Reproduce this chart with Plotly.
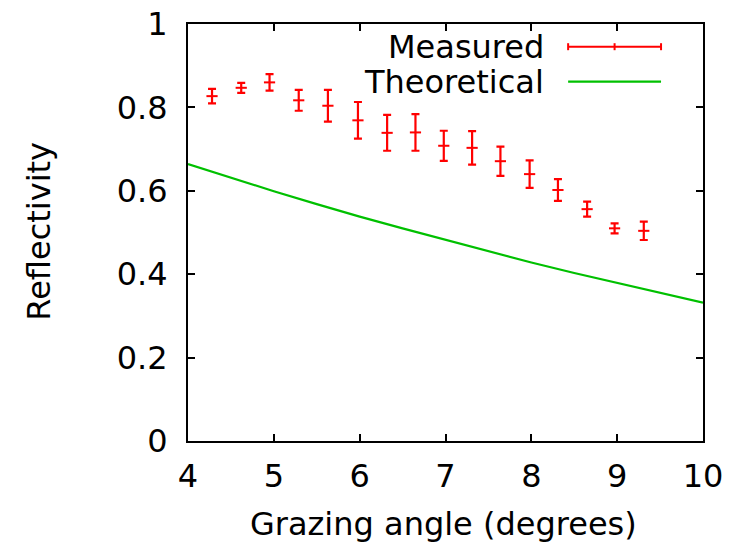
import plotly.graph_objects as go

# ---- data ----
measured_x = [4.28, 4.62, 4.95, 5.29, 5.63, 5.98, 6.32, 6.65, 6.98, 7.31, 7.64, 7.98, 8.31, 8.65, 8.97, 9.31]
measured_y = [0.827, 0.847, 0.860, 0.817, 0.804, 0.769, 0.739, 0.740, 0.708, 0.703, 0.671, 0.640, 0.602, 0.556, 0.510, 0.504]
measured_err = [0.0175, 0.012, 0.020, 0.025, 0.038, 0.044, 0.043, 0.044, 0.036, 0.040, 0.035, 0.033, 0.026, 0.018, 0.012, 0.022]

theory_x = [4.0, 4.5, 5.0, 5.5, 6.0, 6.5, 7.0, 7.5, 8.0, 8.5, 9.0, 9.5, 10.0]
theory_y = [0.664, 0.631, 0.599, 0.568, 0.538, 0.510, 0.483, 0.455, 0.428, 0.403, 0.379, 0.355, 0.332]

x_ticks = [4, 5, 6, 7, 8, 9, 10]
y_ticks = [0, 0.2, 0.4, 0.6, 0.8, 1]
y_tick_labels = ["0", "0.2", "0.4", "0.6", "0.8", "1"]

# ---- layout geometry (pixels) ----
W, H = 740, 546
L, R, T, B = 187.5, 703, 24, 441
FONT = "DejaVu Sans"
FS = 32
RED = "#ff0000"
GREEN = "#00c000"

def px(xp):
    return (xp - L) / (R - L)

def py(yp):
    return (B - yp) / (B - T)

fig = go.Figure()

fig.add_trace(go.Scatter(
    x=theory_x, y=theory_y, mode="lines", name="Theoretical",
    line=dict(color=GREEN, width=2.2), showlegend=False,
))

fig.add_trace(go.Scatter(
    x=measured_x, y=measured_y, mode="markers", name="Measured",
    marker=dict(symbol="line-ew", size=8, line=dict(color=RED, width=2), color=RED),
    error_y=dict(type="data", array=measured_err, visible=True,
                 color=RED, thickness=2.2, width=4),
    showlegend=False,
))

# ---- legend drawn manually (text left of sample, gnuplot style) ----
legend_rows = [("Measured", 46.7), ("Theoretical", 81.7)]
for label, yp in legend_rows:
    fig.add_annotation(
        x=px(546), y=py(yp), xref="paper", yref="paper",
        text=label, showarrow=False, xanchor="right", yanchor="middle",
        font=dict(family=FONT, size=FS, color="black"),
    )

x0s, x1s = px(568), px(661)
ym = py(46.7)
cap = 3.5 / (B - T)
fig.add_shape(type="line", xref="paper", yref="paper", x0=x0s, x1=x1s, y0=ym, y1=ym,
              line=dict(color=RED, width=2))
for xc in (x0s, (x0s + x1s) / 2, x1s):
    fig.add_shape(type="line", xref="paper", yref="paper", x0=xc, x1=xc,
                  y0=ym - cap, y1=ym + cap, line=dict(color=RED, width=2))
yt = py(81.7)
fig.add_shape(type="line", xref="paper", yref="paper", x0=x0s, x1=x1s, y0=yt, y1=yt,
              line=dict(color=GREEN, width=2.2))

# ---- axis titles ----
fig.add_annotation(
    x=px(443), y=py(544), xref="paper", yref="paper",
    text="Grazing angle (degrees)", showarrow=False, xanchor="center", yanchor="bottom",
    font=dict(family=FONT, size=FS, color="black"), borderpad=0,
)
fig.add_annotation(
    x=px(38), y=py(231), xref="paper", yref="paper",
    text="Reflectivity", showarrow=False, textangle=-90, xanchor="center", yanchor="middle",
    font=dict(family=FONT, size=FS, color="black"),
)

axis_common = dict(
    showgrid=False, zeroline=False, showline=True, linecolor="black", linewidth=2,
    mirror="ticks", ticks="inside", ticklen=7, tickwidth=1.5, tickcolor="black",
    tickfont=dict(family=FONT, size=FS, color="black"), automargin=False,
)

fig.update_layout(
    width=W, height=H,
    margin=dict(l=L, r=W - R, t=T, b=H - B, pad=0, autoexpand=False),
    paper_bgcolor="white", plot_bgcolor="white",
    font=dict(family=FONT, size=FS, color="black"),
    xaxis=dict(range=[4, 10], tickvals=x_ticks, ticktext=[str(v) for v in x_ticks],
               ticklabelstandoff=6, **axis_common),
    yaxis=dict(range=[0, 1], tickvals=y_ticks, ticktext=y_tick_labels,
               ticklabelstandoff=12, **axis_common),
)

fig.write_html("out.html")
